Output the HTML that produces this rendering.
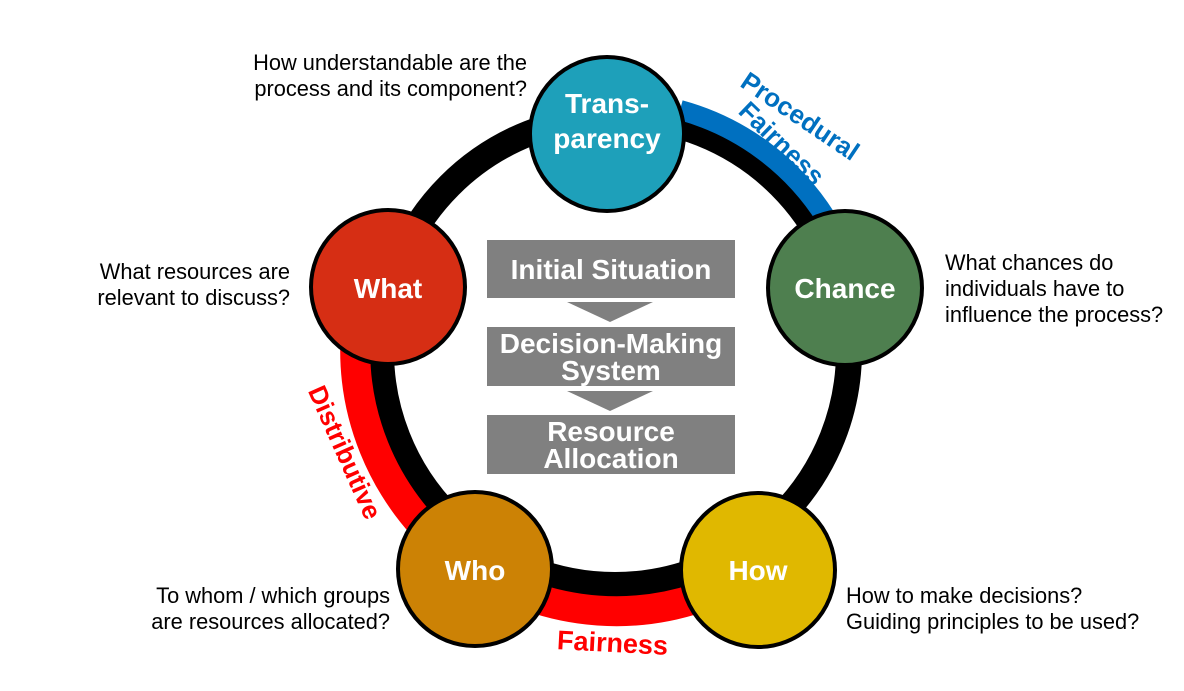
<!DOCTYPE html>
<html><head><meta charset="utf-8"><style>
body{margin:0;background:#fff;width:1184px;height:691px;overflow:hidden;position:relative;font-family:"Liberation Sans",Arial,sans-serif}
.t{position:absolute;font-size:21.8px;color:#000;line-height:26px;white-space:nowrap}
.box{position:absolute;left:487px;width:248px;background:#808080;color:#fff;font-weight:bold;font-size:28px;text-align:center;line-height:27px;display:flex;align-items:center;justify-content:center}
.rl{position:absolute;font-weight:bold;font-size:26px;white-space:nowrap;transform-origin:center}
</style></head><body>
<svg width="1184" height="691" style="position:absolute;left:0;top:0">
<circle cx="615" cy="351" r="234" fill="none" stroke="#000" stroke-width="26"/>
<path d="M 356 330 A 261 261 0 0 0 698 598" fill="none" stroke="#ff0000" stroke-width="30"/>
<path d="M 680 110 A 250 250 0 0 1 826 218" fill="none" stroke="#0070c0" stroke-width="20"/>
<g stroke="#000" stroke-width="4">
<circle cx="607" cy="134" r="77" fill="#1ea0ba"/>
<circle cx="845" cy="288" r="77" fill="#4e7f4f"/>
<circle cx="758" cy="570" r="77" fill="#e0b800"/>
<circle cx="475" cy="569" r="77" fill="#cc8205"/>
<circle cx="388" cy="287" r="77" fill="#d62e14"/>
</g>
<polygon points="567,302 653,302 610,322" fill="#808080"/>
<polygon points="567,391 653,391 610,411" fill="#808080"/>
<g fill="#fff" font-weight="bold" font-size="28" font-family="Liberation Sans,Arial,sans-serif" text-anchor="middle">
<text x="607" y="113">Trans-</text><text x="607" y="148">parency</text>
<text x="845" y="298">Chance</text>
<text x="758" y="580">How</text>
<text x="475" y="580">Who</text>
<text x="388" y="298">What</text>
</g>
</svg>
<div class="box" style="top:240px;height:58px">Initial Situation</div>
<div class="box" style="top:327px;height:59px">Decision-Making<br>System</div>
<div class="box" style="top:415px;height:59px">Resource<br>Allocation</div>
<div class="t" style="right:657px;top:50px;text-align:right">How understandable are the<br>process and its component?</div>
<div class="t" style="right:894px;top:259px;text-align:right">What resources are<br>relevant to discuss?</div>
<div class="t" style="left:945px;top:250px">What chances do<br>individuals have to<br>influence the process?</div>
<div class="t" style="right:794px;top:583px;text-align:right">To whom / which groups<br>are resources allocated?</div>
<div class="t" style="left:846px;top:583px">How to make decisions?<br>Guiding principles to be used?</div>
<div class="rl" style="color:#0070c0;left:732px;top:101px;transform:rotate(34deg)">Procedural</div>
<div class="rl" style="color:#0070c0;left:728px;top:128px;transform:rotate(44deg)">Fairness</div>
<div class="rl" style="color:#ff0000;left:273px;top:437px;transform:rotate(66deg)">Distributive</div>
<div class="rl" style="color:#ff0000;left:557px;top:628px;font-size:27px;transform:rotate(3deg)">Fairness</div>
</body></html>
